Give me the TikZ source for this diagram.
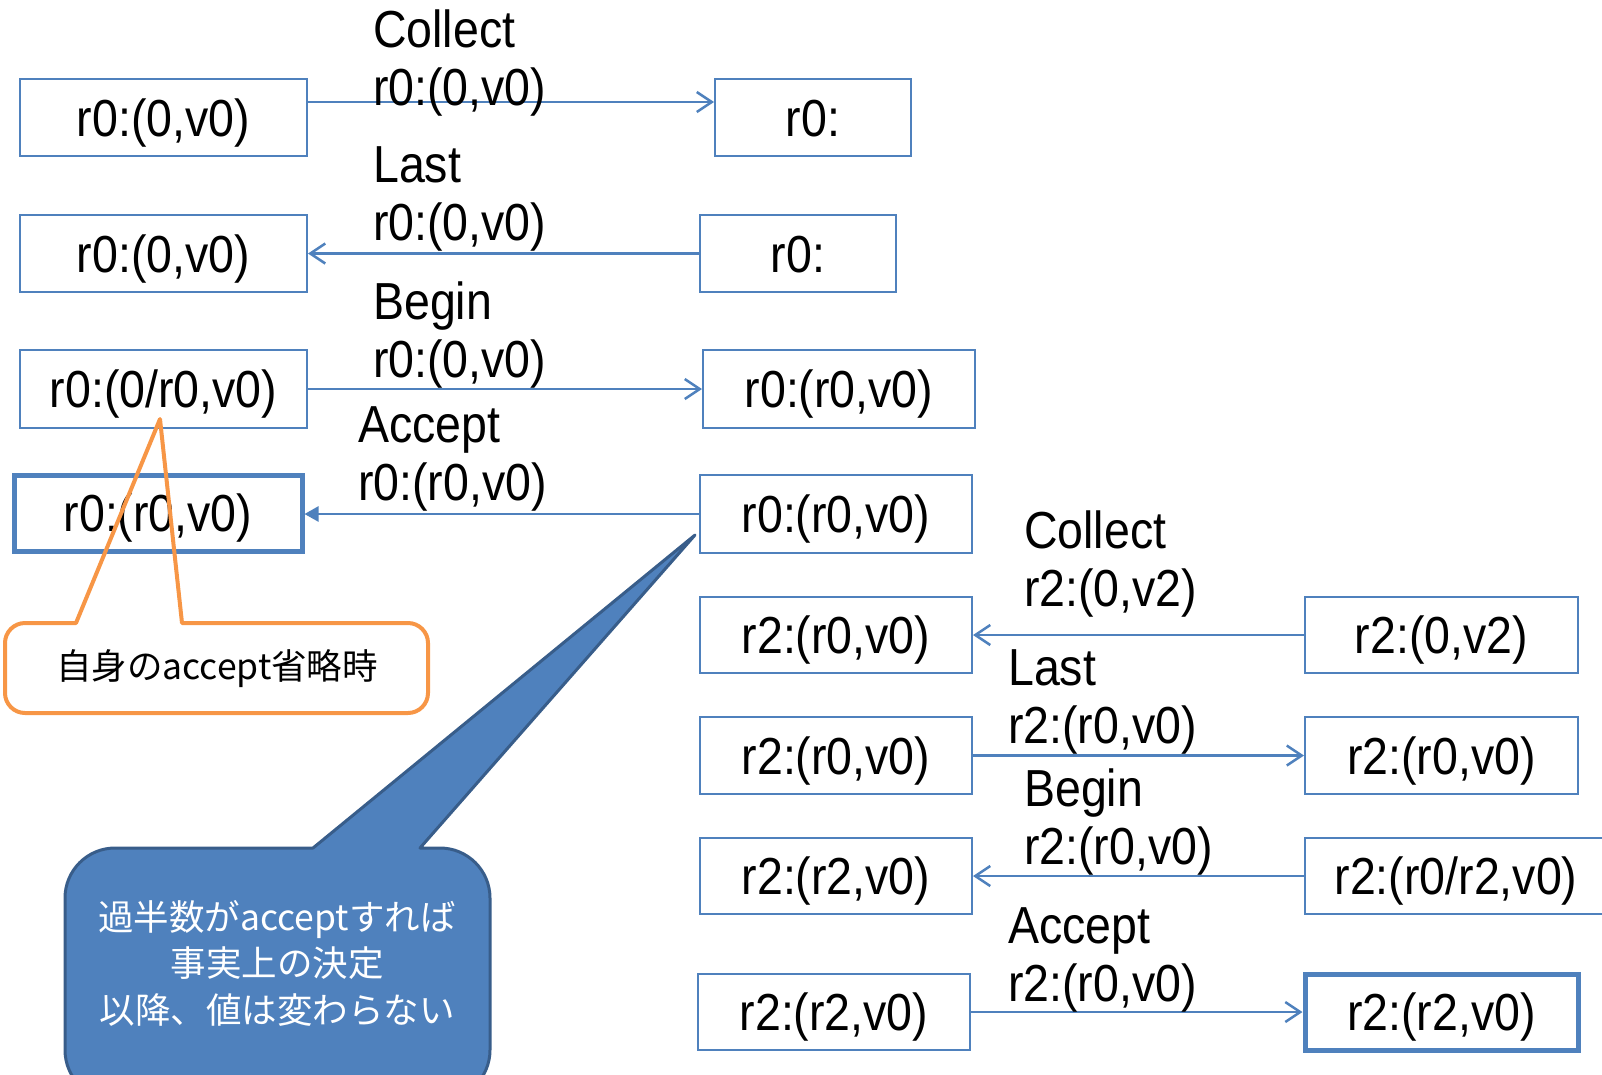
\documentclass[tikz,border=0pt]{standalone}
\usepackage{fontspec}
\setmainfont{Liberation Sans}
\newfontfamily\cjk{Noto Sans CJK JP}
\usetikzlibrary{arrows.meta}
\definecolor{bx}{HTML}{4F81BD}
\definecolor{bxd}{HTML}{385D8A}
\definecolor{og}{HTML}{F79646}
\newcommand{\boxtxt}[1]{\raisebox{-18.6pt}[0pt][0pt]{\scalebox{1}[1.12]{#1}}}
\newcommand{\lbltxt}[2]{\scalebox{1}[1.12]{\begin{tabular}{@{}l@{}}#1\\#2\end{tabular}}}
\begin{document}
\begin{tikzpicture}[x=1pt,y=-1pt,
 big/.style={font=\fontsize{46.5}{52}\selectfont},
 box/.style={big, draw=bx, line width=2pt, inner sep=0pt, minimum height=77pt},
 thickbox/.style={box, line width=5pt},
 lbl/.style={big, anchor=west, inner sep=0pt},
 arr/.style={draw=bx, line width=2.5pt, -{Straight Barb[length=15pt,width=20pt]}},
 farr/.style={draw=bx, line width=2.5pt, -{Triangle[length=14pt,width=15pt]}},
]
\useasboundingbox (0,0) rectangle (1602,1074);
\clip (0,0) rectangle (1602,1074);

\node[box, minimum width=287pt] (a1) at (163.5,117.5) {\boxtxt{r0:(0,v0)}};
\node[box, minimum width=196pt] (b1) at (813,117.5) {\boxtxt{r0:}};
\node[box, minimum width=287pt] (a2) at (163.5,253.5) {\boxtxt{r0:(0,v0)}};
\node[box, minimum width=196pt] (b2) at (798,253.5) {\boxtxt{r0:}};
\node[box, minimum width=287pt, minimum height=78pt] (a3) at (163.5,389) {\boxtxt{r0:(0/r0,v0)}};
\node[box, minimum width=272pt, minimum height=78pt] (b3) at (839,389) {\boxtxt{r0:(r0,v0)}};
\node[thickbox, minimum width=288pt, minimum height=76pt] (a4) at (158,513) {\boxtxt{r0:(r0,v0)}};
\node[box, minimum width=272pt, minimum height=78pt] (b4) at (836,514) {\boxtxt{r0:(r0,v0)}};
\node[box, minimum width=272pt, minimum height=76pt] (a5) at (836,635) {\boxtxt{r2:(r0,v0)}};
\node[box, minimum width=273pt, minimum height=76pt] (b5) at (1441.5,635) {\boxtxt{r2:(0,v2)}};
\node[box, minimum width=272pt, minimum height=77pt] (a6) at (836,755.5) {\boxtxt{r2:(r0,v0)}};
\node[box, minimum width=273pt, minimum height=77pt] (b6) at (1441.5,755.5) {\boxtxt{r2:(r0,v0)}};
\node[box, minimum width=272pt, minimum height=76pt] (a7) at (836,876) {\boxtxt{r2:(r2,v0)}};
\node[box, minimum width=302pt, minimum height=76pt] (b7) at (1456,876) {\boxtxt{r2:(r0/r2,v0)}};
\node[box, minimum width=272pt, minimum height=76pt] (a8) at (834,1012) {\boxtxt{r2:(r2,v0)}};
\node[thickbox, minimum width=273pt, minimum height=76pt] (b8) at (1441.5,1012) {\boxtxt{r2:(r2,v0)}};

\draw[arr] ([yshift=15.5pt]a1.east) -- ([yshift=15.5pt]b1.west);
\draw[arr] (b2.west) -- (a2.east);
\draw[arr] (a3.east) -- (b3.west);
\draw[farr] (b4.west) -- (b4.west -| a4.east);
\draw[arr] (b5.west) -- (a5.east);
\draw[arr] (a6.east) -- (b6.west);
\draw[arr] (b7.west) -- (a7.east);
\draw[arr] (a8.east) -- (b8.west);

\node[lbl] (l1) at (373,65) {\lbltxt{Collect}{r0:(0,v0)}};
\node[lbl] (l2) at (373,199.5) {\lbltxt{Last}{r0:(0,v0)}};
\node[lbl] (l3) at (373,336.5) {\lbltxt{Begin}{r0:(0,v0)}};
\node[lbl] (l4) at (358,460) {\lbltxt{Accept}{r0:(r0,v0)}};
\node[lbl] (l5) at (1024,566) {\lbltxt{Collect}{r2:(0,v2)}};
\node[lbl] (l6) at (1008,702.5) {\lbltxt{Last}{r2:(r0,v0)}};
\node[lbl] (l7) at (1024,824) {\lbltxt{Begin}{r2:(r0,v0)}};
\node[lbl] (l8) at (1008,960.5) {\lbltxt{Accept}{r2:(r0,v0)}};

% orange callout
\draw[og, line width=4pt, line join=round]
 (76,623) -- (160,419) -- (182,623) -- (408,623)
 .. controls (419,623) and (428,632) .. (428,643) -- (428,693)
 .. controls (428,704) and (419,713) .. (408,713) -- (25,713)
 .. controls (14,713) and (5,704) .. (5,693) -- (5,643)
 .. controls (5,632) and (14,623) .. (25,623) -- cycle;
\node[font=\cjk\fontsize{35.5}{40}\selectfont, inner sep=0pt] (ot) at (217,669) {自身のaccept省略時};

% blue callout
\draw[fill=bx, draw=bxd, line width=3pt, line join=round]
 (313,848) -- (695,535) -- (420,848) -- (440,848)
 .. controls (467.6,848) and (490,870.4) .. (490,898) -- (490,1050)
 .. controls (490,1077.6) and (467.6,1100) .. (440,1100) -- (115,1100)
 .. controls (87.4,1100) and (65,1077.6) .. (65,1050) -- (65,898)
 .. controls (65,870.4) and (87.4,848) .. (115,848) -- cycle;
\node[font=\cjk\fontsize{35.5}{46.5}\selectfont, text=white, align=center, inner sep=0pt] (bt) at (277,963)
 {過半数がacceptすれば\\事実上の決定\\以降、値は変わらない};
\end{tikzpicture}
\end{document}
